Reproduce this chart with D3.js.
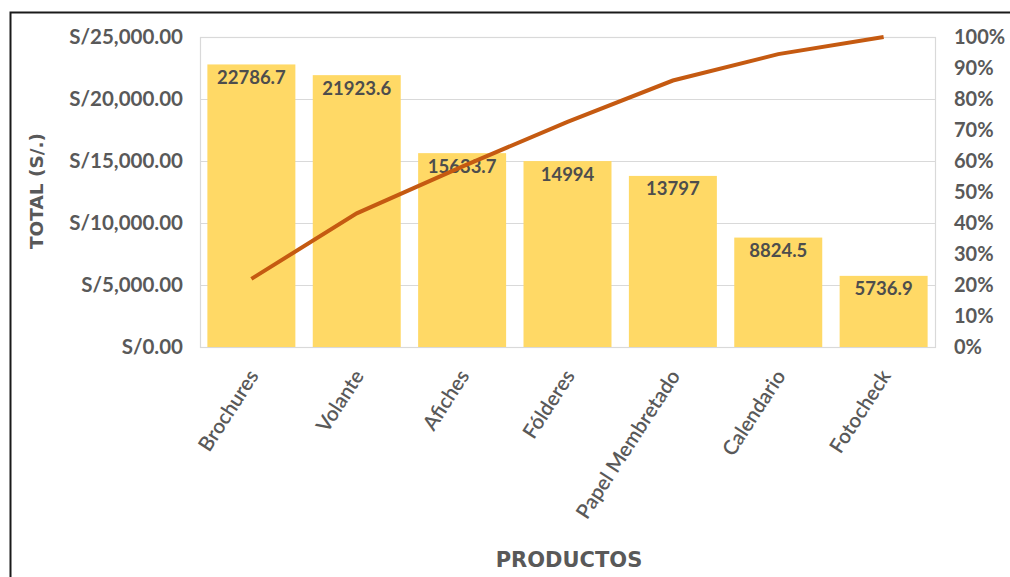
<!DOCTYPE html>
<html>
<head>
<meta charset="utf-8">
<script src="https://cdn.jsdelivr.net/npm/d3@7"></script>
<style>
    body { margin: 0; background: #fff; }
    svg text { font-family: Lato, "Open Sans", sans-serif; font-weight: 700; }
</style>
</head>
<body>
<div id="container"></div>
<script>
// datos
const productos = ["Brochures", "Volante", "Afiches", "Fólderes", "Papel Membretado", "Calendario", "Fotocheck"];
const totales = [22786.7, 21923.6, 15633.7, 14994, 13797, 8824.5, 5736.9];
const acumulado = [0.2197, 0.4312, 0.5819, 0.7265, 0.8596, 0.9447, 1.0];
const ticksTotal = [0, 5000, 10000, 15000, 20000, 25000];
const ticksPct = [0, 0.1, 0.2, 0.3, 0.4, 0.5, 0.6, 0.7, 0.8, 0.9, 1.0];

const W = 1010, H = 577;
const X1 = 200, X2 = 935, Y1 = 37, Y2 = 347;
const TXT = "#595959";

const svg = d3.select("#container").append("svg")
    .attr("width", W)
    .attr("height", H);

// marco
svg.append("path")
    .attr("d", `M10.5,${H} L10.5,12.5 L${W},12.5`)
    .attr("fill", "none")
    .attr("stroke", "#1a1a1a")
    .attr("stroke-width", 2);

const x = d3.scaleBand().domain(productos).range([X1, X2]).paddingInner(0.165).paddingOuter(0.07);
const y = d3.scaleLinear().domain([0, 25000]).range([Y2, Y1]);
const yp = d3.scaleLinear().domain([0, 1]).range([Y2, Y1]);

// grid
svg.append("g")
    .selectAll("line")
    .data(ticksTotal)
    .enter()
    .append("line")
    .attr("x1", X1)
    .attr("x2", X2)
    .attr("y1", (d) => Math.round(y(d)) + 0.5)
    .attr("y2", (d) => Math.round(y(d)) + 0.5)
    .attr("stroke", "#d9d9d9")
    .attr("stroke-width", 1.2);
svg.append("rect")
    .attr("x", X1 + 0.5)
    .attr("y", Y1 + 0.5)
    .attr("width", X2 - X1)
    .attr("height", Y2 - Y1)
    .attr("fill", "none")
    .attr("stroke", "#d9d9d9")
    .attr("stroke-width", 1.2);

// barras
svg.append("g")
    .selectAll("rect")
    .data(totales)
    .enter()
    .append("rect")
    .attr("x", (d, i) => x(productos[i]))
    .attr("y", (d) => y(d))
    .attr("width", x.bandwidth())
    .attr("height", (d) => Y2 - y(d))
    .attr("fill", "#ffd966");

// etiquetas de datos
svg.append("g")
    .selectAll("text")
    .data(totales)
    .enter()
    .append("text")
    .attr("x", (d, i) => x(productos[i]) + x.bandwidth() / 2)
    .attr("y", (d) => y(d) + 19.5)
    .attr("text-anchor", "middle")
    .style("font-size", "18.5px")
    .attr("fill", "#4d4d4d")
    .text((d) => d);

// linea pareto
const line = d3.line()
    .x((d, i) => x(productos[i]) + x.bandwidth() / 2)
    .y((d) => yp(d));
svg.append("path")
    .datum(acumulado)
    .attr("d", line)
    .attr("fill", "none")
    .attr("stroke", "#c55a11")
    .attr("stroke-width", 4);

// eje izquierdo
const fmt = d3.format(",.2f");
svg.append("g")
    .selectAll("text")
    .data(ticksTotal)
    .enter()
    .append("text")
    .attr("x", 183)
    .attr("y", (d) => y(d))
    .attr("dy", "0.36em")
    .attr("text-anchor", "end")
    .style("font-size", "20.5px")
    .attr("fill", TXT)
    .text((d) => "S/" + fmt(d));

// eje derecho
svg.append("g")
    .selectAll("text")
    .data(ticksPct)
    .enter()
    .append("text")
    .attr("x", 954)
    .attr("y", (d) => yp(d))
    .attr("dy", "0.36em")
    .style("font-size", "20px")
    .attr("fill", TXT)
    .text((d) => Math.round(d * 100) + "%");

// categorias
svg.append("g")
    .selectAll("text")
    .data(productos)
    .enter()
    .append("text")
    .attr("transform", (d) => `translate(${x(d) + x.bandwidth() / 2 - 4},${368}) rotate(-57)`)
    .attr("text-anchor", "end")
    .attr("dy", "0.7em")
    .style("font-size", "20.5px")
    .style("font-weight", 600)
    .attr("fill", TXT)
    .text((d) => d);

// titulos
svg.append("text")
    .attr("transform", "translate(43,191) rotate(-90)")
    .attr("text-anchor", "middle")
    .style("font-family", "'DejaVu Sans', sans-serif")
    .style("font-size", "18.5px")
    .attr("fill", TXT)
    .text("TOTAL (S/.)");
svg.append("text")
    .attr("x", 569)
    .attr("y", 567)
    .attr("text-anchor", "middle")
    .style("font-family", "'DejaVu Sans', sans-serif")
    .style("font-size", "21px")
    .attr("fill", TXT)
    .text("PRODUCTOS");
</script>
</body>
</html>
